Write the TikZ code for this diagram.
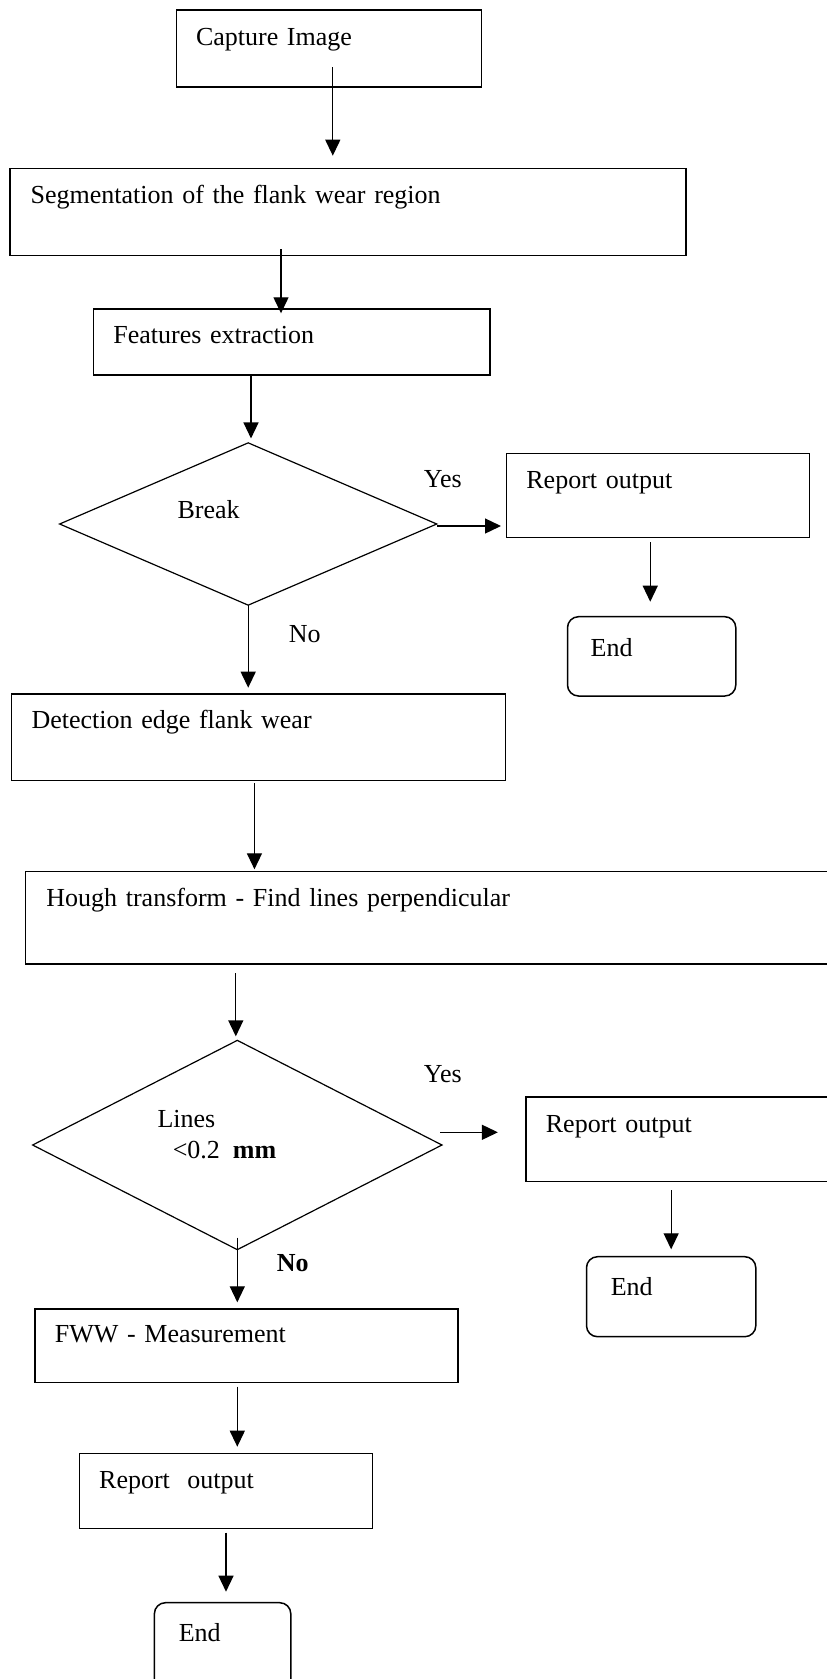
\documentclass[tikz,border=0pt]{standalone}
\usepackage{fontspec}
\setmainfont{Liberation Serif}
\usetikzlibrary{arrows.meta,shapes.geometric}

\tikzset{
  stepbox/.style={draw, line width=1.5pt, rectangle, anchor=north west,
    outer sep=0pt, inner ysep=0pt, align=left},
  endbox/.style={stepbox, rounded corners=11pt},
  decide/.style={draw, line width=1.2pt, diamond, inner sep=0pt, outer sep=0pt},
  flow/.style={line width=1.3pt, -{Triangle[length=16pt,width=15pt]}},
  answer/.style={anchor=base west},
}

\begin{document}
\begin{tikzpicture}[x=1pt, y=-1pt, font=\fontsize{26}{31}\selectfont]
  \useasboundingbox (0,0) rectangle (827,1679);

  % main column
  \node[stepbox, inner xsep=19.3pt, text width=266.4pt, text height=35pt, text depth=42pt]
    (cap) at (176.7,10) {Capture Image};
  \node[stepbox, inner xsep=20.6pt, text width=634.8pt, text height=34.6pt, text depth=52pt]
    (seg) at (10,168.7) {Segmentation of the flank wear region};
  \node[stepbox, inner xsep=20pt, text width=356.6pt, text height=34.3pt, text depth=31.7pt]
    (feat) at (93.4,309) {Features extraction};
  \node[decide, minimum width=377.1pt, minimum height=162.3pt] (brk) at (248.2,524) {};
  \node[answer] (brktxt) at (174,518.3) {Break};
  \node[stepbox, inner xsep=20pt, text width=453.7pt, text height=34.3pt, text depth=52.4pt]
    (det) at (11.6,694) {Detection edge flank wear};
  \node[stepbox, inner xsep=21.1pt, text width=792.5pt, text height=35pt, text depth=57.3pt]
    (hough) at (25.3,871.7) {Hough transform - Find lines perpendicular};
  \node[decide, minimum width=409.3pt, minimum height=209.3pt] (lin) at (237.3,1145) {};
  \node[answer] (lintxt) at (154,1127.3) {Lines};
  \node[answer] (limtxt) at (169.3,1158.3) {<0.2\ \ \textbf{mm}};
  \node[stepbox, inner xsep=20.1pt, text width=382.8pt, text height=33.7pt, text depth=39.6pt]
    (fww) at (34.8,1309) {FWW - Measurement};
  \node[stepbox, inner xsep=19.6pt, text width=253.6pt, text height=35pt, text depth=40.4pt]
    (rep3) at (79.6,1453.3) {Report\ \ output};
  \node[endbox, inner xsep=24.4pt, text width=87.6pt, text height=39pt, text depth=50pt]
    (end3) at (154.4,1602.7) {End};

  % side branches
  \node[stepbox, inner xsep=20.1pt, text width=263.1pt, text height=35pt, text depth=49.4pt]
    (rep1) at (506.3,453.3) {Report output};
  \node[endbox, inner xsep=23.2pt, text width=121.9pt, text height=39.3pt, text depth=40pt]
    (end1) at (567.5,616.7) {End};
  \node[stepbox, inner xsep=20.1pt, text width=294pt, text height=35.3pt, text depth=49.4pt]
    (rep2) at (525.8,1097) {Report output};
  \node[endbox, inner xsep=24.3pt, text width=120.7pt, text height=38.3pt, text depth=41.7pt]
    (end2) at (586.5,1256.7) {End};

  % answers
  \node[answer] (yes1) at (420.4,487.7) {Yes};
  \node[answer] (no1) at (285.3,642.7) {No};
  \node[answer] (yes2) at (420.4,1082.3) {Yes};
  \node[answer] (no2) at (273.3,1271.7) {\textbf{No}};

  % connectors
  \draw[flow, shorten <=-20pt, shorten >=13pt]
    ([xshift=3.6pt]cap.south) -- ([xshift=3.6pt]cap.south |- seg.north);
  \draw[flow, shorten <=-6pt, shorten >=-4.3pt]
    ([xshift=-67pt]seg.south) -- ([xshift=-67pt]seg.south |- feat.north);
  \draw[flow, shorten >=4.4pt]
    ([xshift=-40.7pt]feat.south) -- ([xshift=-40.7pt]feat.south |- brk.north);
  \draw[flow, shorten >=5.3pt]
    ([yshift=-2pt]brk.east) -- ([yshift=-2pt]brk.east -| rep1.west);
  \draw[flow, shorten <=4.6pt, shorten >=15pt]
    ([xshift=-7.7pt]rep1.south) -- ([xshift=-7.7pt]rep1.south |- end1.north);
  \draw[flow, shorten >=6.3pt]
    (brk.south) -- (brk.south |- det.north);
  \draw[flow, shorten <=2.6pt, shorten >=2.4pt]
    ([xshift=-4pt]det.south) -- ([xshift=-4pt]det.south |- hough.north);
  \draw[flow, shorten <=9.3pt, shorten >=4pt]
    ([xshift=-1.5pt]lin.north |- hough.south) -- ([xshift=-1.5pt]lin.north);
  \draw[flow, shorten >=26.3pt]
    ([shift={(-1.6pt,12.7pt)}]lin.east) -- ([shift={(-1.6pt,12.7pt)}]lin.east -| rep2.west);
  \draw[flow, shorten <=8.3pt, shorten >=7.4pt]
    (end2.north |- rep2.south) -- (end2.north);
  \draw[flow, shorten <=-12pt, shorten >=6.7pt]
    (lin.south) -- (lin.south |- fww.north);
  \draw[flow, shorten <=4.4pt, shorten >=6.6pt]
    ([xshift=-9pt]fww.south) -- ([xshift=-9pt]fww.south |- rep3.north);
  \draw[flow, shorten <=4pt, shorten >=11pt]
    (rep3.south) -- (rep3.south |- end3.north);
\end{tikzpicture}
\end{document}
